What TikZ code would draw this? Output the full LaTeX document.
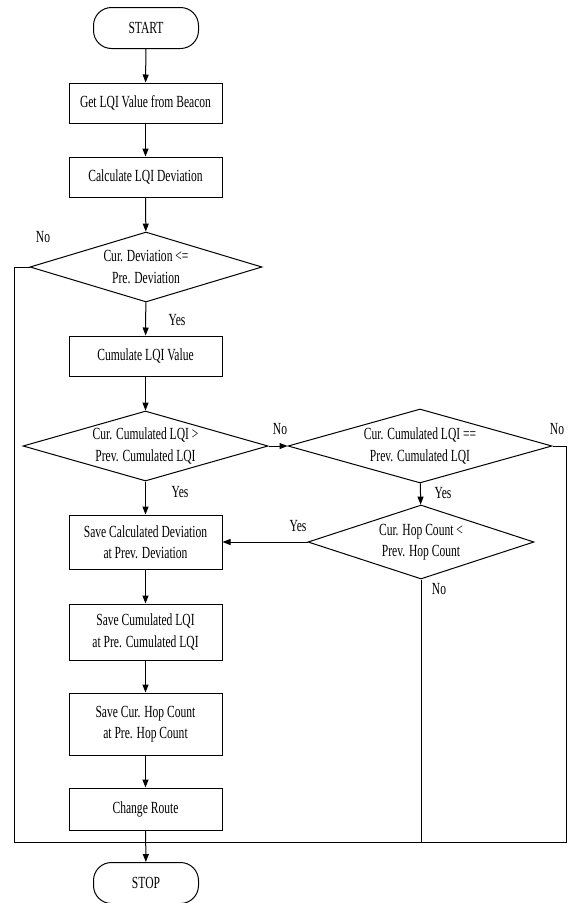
\documentclass[tikz,border=0pt]{standalone}
\usepackage{fontspec}
\setmainfont{Liberation Serif}[FakeStretch=0.68]
\usetikzlibrary{shapes.geometric,arrows.meta}
\begin{document}
\begin{tikzpicture}[x=1pt,y=-1pt,
  every node/.style={font=\fontsize{17}{21.5}\selectfont, text=black},
  box/.style={draw, line width=1pt, minimum width=153pt, inner sep=0pt, align=center},
  term/.style={draw, line width=1pt, rounded corners=18pt, minimum width=105pt, minimum height=41pt, inner sep=0pt},
  dec/.style={draw, diamond, line width=1pt, shape aspect=3.3, inner sep=0pt, align=center},
  flow/.style={line width=1pt, -{Triangle[length=8pt,width=6pt]}},
  plain/.style={line width=1pt},
  lbl/.style={inner sep=0pt}]
\useasboundingbox (0,0) rectangle (568,903);
\node[term] (start) at (146,28) {START};
\node[box, minimum height=40pt] (get) at (145.5,103) {Get LQI Value from Beacon};
\node[box, minimum height=40pt] (calc) at (145.5,177) {Calculate LQI Deviation};
\node[dec, minimum width=232pt, minimum height=70pt] (d1) at (146,267) {Cur. Deviation <=\\Pre. Deviation};
\node[box, minimum height=40pt] (cum) at (145.5,356) {Cumulate LQI Value};
\node[dec, minimum width=245pt, minimum height=70pt] (d2) at (145.5,446) {Cur. Cumulated LQI >\\Prev. Cumulated LQI};
\node[dec, minimum width=264pt, minimum height=74pt] (d3) at (420,446) {Cur. Cumulated LQI ==\\Prev. Cumulated LQI};
\node[dec, minimum width=226pt, minimum height=74pt] (d4) at (421,542) {Cur. Hop Count <\\Prev. Hop Count};
\node[box, minimum height=54pt] (sdev) at (145.5,542) {Save Calculated Deviation\\at Prev. Deviation};
\node[box, minimum height=56pt] (scum) at (145.5,632) {Save Cumulated LQI\\at Pre. Cumulated LQI};
\node[box, minimum height=62pt] (shop) at (145.5,724) {Save Cur. Hop Count\\at Pre. Hop Count};
\node[box, minimum height=42pt] (chg) at (145.5,809) {Change Route};
\node[term] (stop) at (146,883) {STOP};
\coordinate (join) at (146,842);
\coordinate (lt) at (14,267);
\coordinate (lb) at (14,842);
\coordinate (rt) at (566,446);
\coordinate (rb) at (566,842);
\coordinate (mb) at (421,842);
% main column
\draw[flow] (start) -- (get);
\draw[flow] (get) -- (calc);
\draw[flow] (calc) -- (d1);
\draw[flow] (d1) -- (cum);
\draw[flow] (cum) -- (d2);
\draw[flow] (d2) -- (sdev);
\draw[flow] (sdev) -- (scum);
\draw[flow] (scum) -- (shop);
\draw[flow] (shop) -- (chg);
\draw[flow] (chg) -- (stop);
% branches
\draw[flow] (d2.east) -- (d3.west);
\draw[flow] (d3) -- (d4);
\draw[flow] (d4.west) -- (sdev.east);
\draw[plain] (d1.west) -- (lt) -- (lb) -- (rb) -- (rt) -- (d3.east);
\draw[plain] (d4.south) -- (mb);
% labels
\node[lbl] (n1) at (43,237) {No};
\node[lbl] (y1) at (177,320) {Yes};
\node[lbl] (y2) at (180,492) {Yes};
\node[lbl] (n2) at (280,429) {No};
\node[lbl] (n3) at (557,429) {No};
\node[lbl] (y3) at (443,493) {Yes};
\node[lbl] (y4) at (298,526) {Yes};
\node[lbl] (n4) at (439,589) {No};
\end{tikzpicture}
\end{document}
